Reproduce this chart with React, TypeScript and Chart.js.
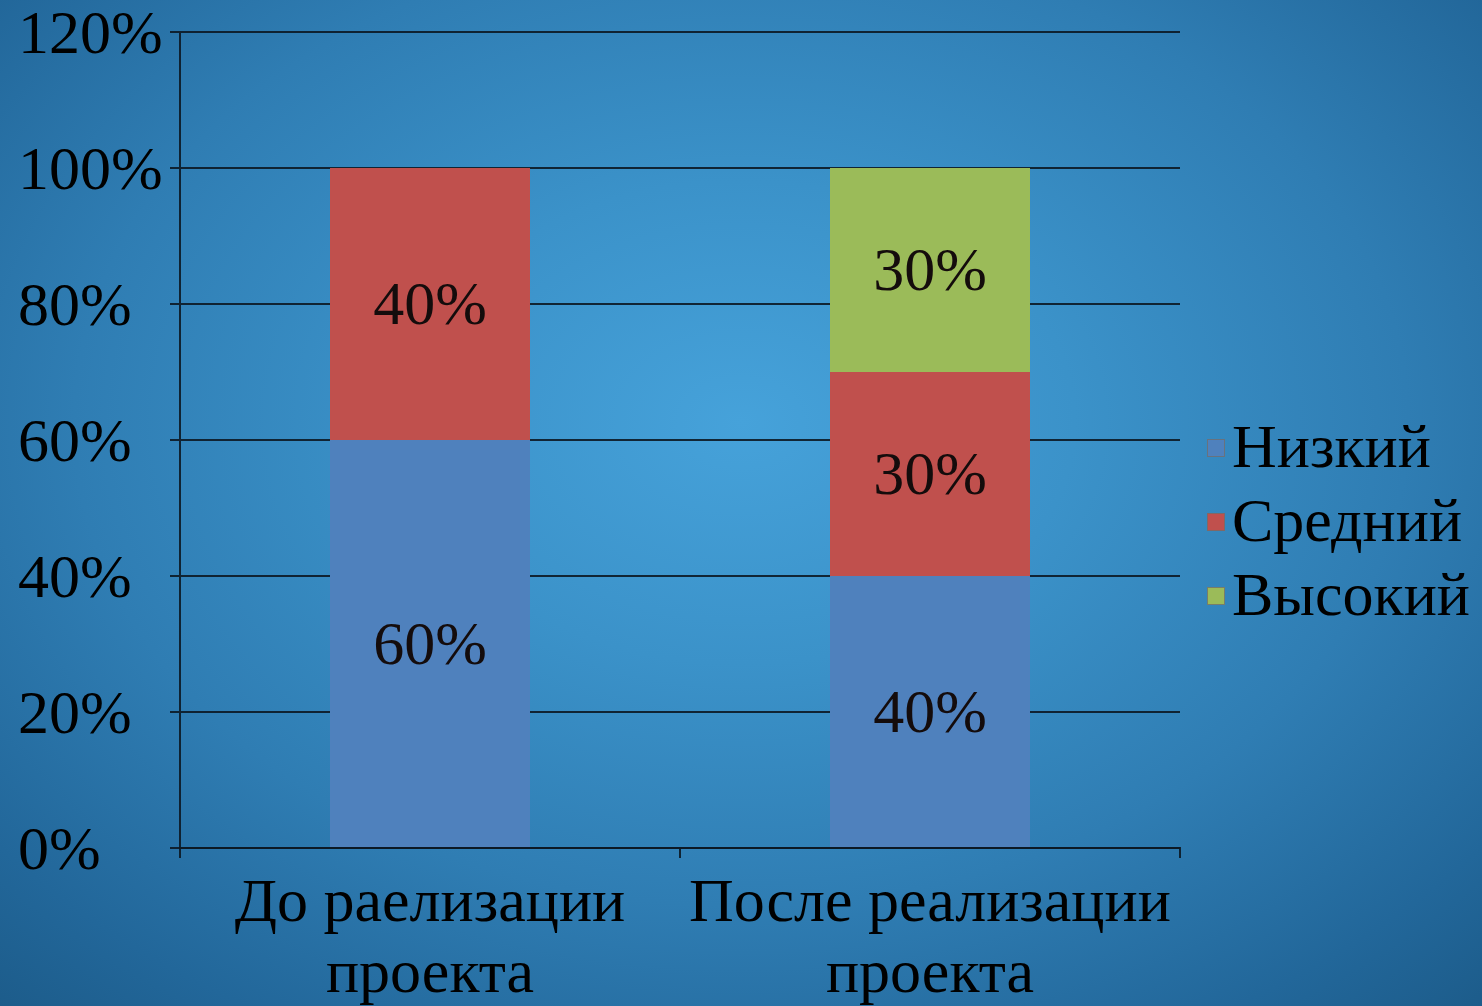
import React, { useEffect, useRef } from "react";
import { Chart, registerables } from "chart.js";

Chart.register(...registerables);

const categories: string[][] = [
  ["До раелизации", "проекта"],
  ["После реализации", "проекта"],
];
const seriesNames = ["Низкий", "Средний", "Высокий"];
const lowValues: (number | null)[] = [60, 40];
const midValues: (number | null)[] = [40, 30];
const highValues: (number | null)[] = [null, 30];
const seriesColors = ["#4f81bd", "#c0504d", "#9bbb59"];
const yTicks = [0, 20, 40, 60, 80, 100, 120];

const FONT = "'Liberation Serif', 'Times New Roman', serif";
const GRID = "rgba(12,24,36,0.9)";

const dataLabelPlugin = {
  id: "dataLabels",
  afterDatasetsDraw(chart: any) {
    const ctx = chart.ctx;
    ctx.save();
    ctx.font = `62px ${FONT}`;
    ctx.fillStyle = "#140c0c";
    ctx.textAlign = "center";
    ctx.textBaseline = "middle";
    chart.data.datasets.forEach((ds: any, di: number) => {
      const meta = chart.getDatasetMeta(di);
      meta.data.forEach((bar: any, i: number) => {
        const v = ds.data[i];
        if (v === null || v === undefined) return;
        const { x, y, base } = bar.getProps(["x", "y", "base"], true);
        ctx.fillText(`${v}%`, x, (y + base) / 2 + 4);
      });
    });
    ctx.restore();
  },
};

const legendPlugin = {
  id: "customLegend",
  afterDraw(chart: any) {
    const ctx = chart.ctx;
    ctx.save();
    ctx.font = `62px ${FONT}`;
    ctx.textAlign = "left";
    ctx.textBaseline = "middle";
    const startY = 448;
    const gap = 74;
    chart.data.datasets.forEach((ds: any, i: number) => {
      const cy = startY + i * gap;
      ctx.fillStyle = ds.backgroundColor;
      ctx.fillRect(1207, cy - 9, 18, 18);
      ctx.strokeStyle = "rgba(110,110,110,0.8)";
      ctx.lineWidth = 1;
      ctx.strokeRect(1207.5, cy - 8.5, 17, 17);
      ctx.fillStyle = "#000";
      ctx.fillText(ds.label, 1232, cy + 3);
    });
    ctx.restore();
  },
};

export default function App() {
  const ref = useRef<HTMLCanvasElement>(null);
  useEffect(() => {
    if (!ref.current) return;
    const chart = new Chart(ref.current, {
      type: "bar",
      data: {
        labels: categories,
        datasets: [
          { label: seriesNames[0], data: lowValues, backgroundColor: seriesColors[0] },
          { label: seriesNames[1], data: midValues, backgroundColor: seriesColors[1] },
          { label: seriesNames[2], data: highValues, backgroundColor: seriesColors[2] },
        ] as any,
      },
      options: {
        animation: false,
        responsive: true,
        maintainAspectRatio: false,
        devicePixelRatio: 1,
        layout: { padding: { left: 18, top: 32, right: 302, bottom: 0 } },
        datasets: { bar: { barPercentage: 0.4, categoryPercentage: 1, borderWidth: 0 } } as any,
        plugins: {
          legend: { display: false },
          tooltip: { enabled: false },
        },
        scales: {
          x: {
            stacked: true,
            grid: {
              display: true,
              drawOnChartArea: false,
              drawTicks: true,
              tickLength: 10,
              color: GRID,
              lineWidth: 2,
            },
            border: { display: true, color: GRID, width: 2 },
            ticks: {
              color: "#000",
              font: { family: FONT, size: 62, lineHeight: 1.15 },
              padding: 11,
              maxRotation: 0,
              autoSkip: false,
            },
            afterFit(scale: any) {
              scale.height = 1006 - 848;
              scale.paddingLeft = 0;
              scale.paddingRight = 0;
            },
          },
          y: {
            stacked: true,
            min: 0,
            max: 120,
            afterBuildTicks(scale: any) {
              scale.ticks = yTicks.map((v) => ({ value: v }));
            },
            grid: {
              color: GRID,
              lineWidth: 2,
              drawTicks: true,
              tickLength: 10,
            },
            border: { display: true, color: GRID, width: 2 },
            ticks: {
              color: "#000",
              font: { family: FONT, size: 62 },
              crossAlign: "far",
              padding: 0,
              labelOffset: 5,
              callback: (v: any) => `${v}%`,
            },
            afterFit(scale: any) {
              scale.width = 162;
              scale.paddingTop = 0;
              scale.paddingBottom = 0;
            },
          },
        },
      },
      plugins: [dataLabelPlugin, legendPlugin],
    });
    return () => chart.destroy();
  }, []);

  return (
    <div
      style={{
        position: "fixed",
        left: 0,
        top: 0,
        width: 1482,
        height: 1006,
        background:
          "radial-gradient(ellipse 75% 80% at 50% 42%, #46a2da 0%, #3b92c9 30%, #2f7db3 60%, #22679a 85%, #1c5b89 100%)",
      }}
    >
      <canvas ref={ref} />
    </div>
  );
}
